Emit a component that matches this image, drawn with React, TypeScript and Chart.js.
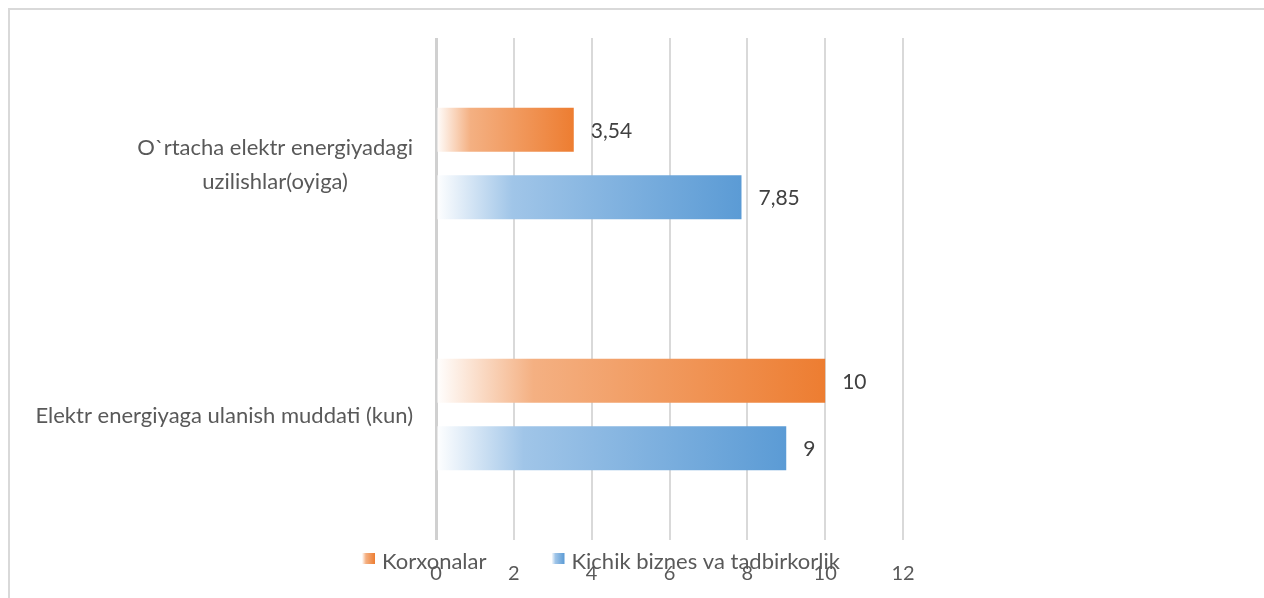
import React, { useEffect, useRef } from "react";
import { Chart, registerables } from "chart.js";

Chart.register(...registerables);

// ---- data ----
const categories: string[][] = [
  ["O`rtacha elektr energiyadagi", "uzilishlar(oyiga)"],
  ["Elektr energiyaga ulanish muddati (kun)"],
];
const seriesNames = ["Korxonalar", "Kichik biznes va tadbirkorlik"];
const korxonalar = [3.54, 10];
const kichikBiznes = [7.85, 9];
const xMin = 0;
const xMax = 12;
const xStep = 2;

// ---- styles ----
const FONT = "Lato, 'Open Sans', sans-serif";
const TEXT = "#595959";
const LABEL = "#404040";
const ORANGE = "#ED7D31";
const ORANGE_LIGHT = "#F4B082";
const BLUE = "#5B9BD5";
const BLUE_LIGHT = "#A0C5E8";

const W = 1254;
const H = 588;

function gradientFill(light: string, full: string) {
  return (ctx: any) => {
    const chart = ctx.chart;
    const xs = chart.scales && chart.scales.x;
    if (!xs || ctx.type !== "data") return full;
    const x0 = xs.getPixelForValue(0);
    const x1 = xs.getPixelForValue(ctx.raw as number);
    if (!isFinite(x0) || !isFinite(x1) || x1 - x0 < 1) return full;
    const g = chart.ctx.createLinearGradient(x0, 0, x1, 0);
    g.addColorStop(0, "#ffffff");
    g.addColorStop(0.25, light);
    g.addColorStop(1, full);
    return g;
  };
}

const fmt = (v: number) => String(v).replace(".", ",");

const overlayPlugin = {
  id: "overlay",
  afterDatasetsDraw(chart: any) {
    const c = chart.ctx;
    // data labels
    c.save();
    c.font = `21px ${FONT}`;
    c.fillStyle = LABEL;
    c.textAlign = "left";
    c.textBaseline = "middle";
    chart.data.datasets.forEach((ds: any, di: number) => {
      const meta = chart.getDatasetMeta(di);
      meta.data.forEach((el: any, i: number) => {
        c.fillText(fmt(ds.data[i]), el.x + 17, el.y + 1);
      });
    });
    c.restore();
  },
  afterDraw(chart: any) {
    const c = chart.ctx;
    const ys = chart.scales.y;
    const area = chart.chartArea;
    // category labels: block right-aligned, lines centered within the block
    c.save();
    c.font = `22px ${FONT}`;
    c.fillStyle = TEXT;
    c.textAlign = "center";
    c.textBaseline = "middle";
    const lineH = 34;
    categories.forEach((lines, i) => {
      const y = ys.getPixelForTick(i);
      const maxW = Math.max(...lines.map((l) => c.measureText(l).width));
      const right = area.left - 23;
      const cx = right - maxW / 2;
      lines.forEach((l, k) => {
        c.fillText(l, cx, y + (k - (lines.length - 1) / 2) * lineH + 1);
      });
    });
    c.restore();

    // legend
    c.save();
    c.font = `22px ${FONT}`;
    c.textBaseline = "middle";
    c.textAlign = "left";
    const colors = [
      [ORANGE_LIGHT, ORANGE],
      [BLUE_LIGHT, BLUE],
    ];
    let x = area.left - 74;
    const yc = area.bottom + 22;
    seriesNames.forEach((name, i) => {
      const box = 13;
      const g = c.createLinearGradient(x, 0, x + box, 0);
      g.addColorStop(0, "#ffffff");
      g.addColorStop(0.3, colors[i][0]);
      g.addColorStop(1, colors[i][1]);
      c.fillStyle = g;
      c.fillRect(x, yc - 9, box, 11);
      c.fillStyle = TEXT;
      const tx = x + box + 7;
      c.fillText(name, tx, yc);
      x = tx + c.measureText(name).width + 65;
    });
    c.restore();
  },
};

export default function App() {
  const ref = useRef<HTMLCanvasElement | null>(null);

  useEffect(() => {
    if (!ref.current) return;
    const chart = new Chart(ref.current, {
      type: "bar",
      data: {
        labels: categories.map((l) => l.join(" ")),
        datasets: [
          {
            label: seriesNames[0],
            data: korxonalar,
            backgroundColor: gradientFill(ORANGE_LIGHT, ORANGE),
            borderWidth: 0,
            categoryPercentage: 0.538,
            barPercentage: 0.652,
          },
          {
            label: seriesNames[1],
            data: kichikBiznes,
            backgroundColor: gradientFill(BLUE_LIGHT, BLUE),
            borderWidth: 0,
            categoryPercentage: 0.538,
            barPercentage: 0.652,
          },
        ],
      },
      options: {
        indexAxis: "y",
        responsive: false,
        animation: false,
        layout: { padding: { left: 0, right: 361, top: 28, bottom: 8 } },
        plugins: {
          legend: { display: false },
          tooltip: { enabled: false },
        },
        scales: {
          x: {
            min: xMin,
            max: xMax,
            ticks: {
              stepSize: xStep,
              color: TEXT,
              font: { family: FONT, size: 20 },
              padding: 22,
            },
            grid: {
              color: (ctx: any) => (ctx.tick && ctx.tick.value === 0 ? "#d0d0d0" : "#d9d9d9"),
              lineWidth: (ctx: any) => (ctx.tick && ctx.tick.value === 0 ? 3 : 2),
              drawTicks: false,
            },
            border: { display: false },
            afterFit: (s: any) => {
              s.height = 50;
            },
          },
          y: {
            ticks: { display: false },
            grid: { display: false },
            border: { display: false },
            afterFit: (s: any) => {
              s.width = 426;
            },
          },
        },
      },
      plugins: [overlayPlugin],
    });
    return () => chart.destroy();
  }, []);

  return (
    <div
      style={{
        position: "fixed",
        left: 8,
        top: 8,
        width: 1256,
        height: 590,
        borderLeft: "2px solid #d9d9d9",
        borderTop: "2px solid #d9d9d9",
        boxSizing: "border-box",
        background: "#fff",
      }}
    >
      <canvas
        ref={ref}
        width={W}
        height={H}
        style={{ position: "absolute", left: 0, top: 0, width: W, height: H }}
      />
    </div>
  );
}
